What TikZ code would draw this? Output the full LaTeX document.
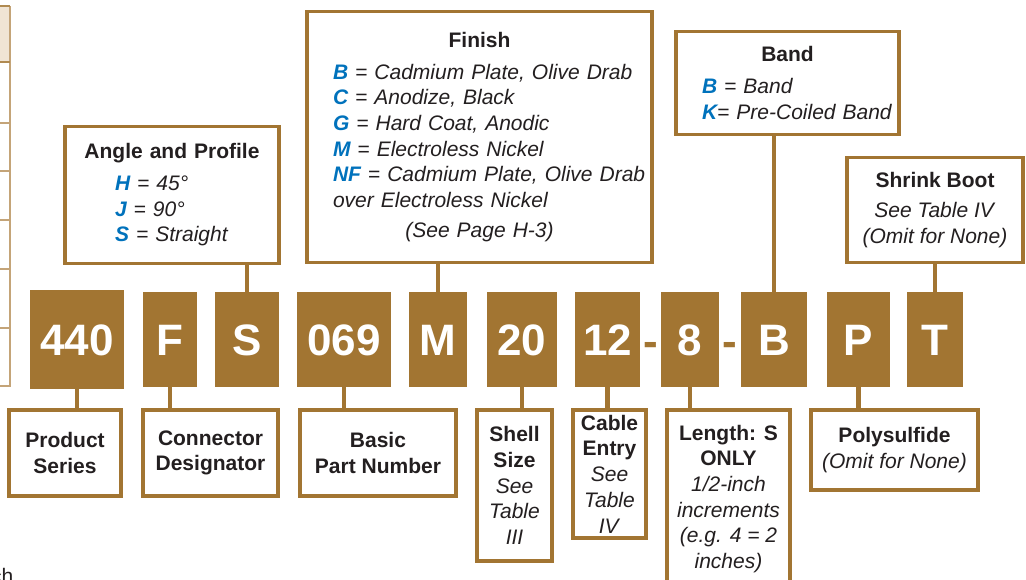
\documentclass[tikz,border=0pt]{standalone}
\usepackage{fontspec}
\setmainfont{Liberation Sans}
\usepackage{tikz}

\definecolor{brass}{RGB}{162,117,50}
\definecolor{codeblue}{RGB}{0,114,188}
\definecolor{ink}{RGB}{35,31,32}
\definecolor{tabline}{RGB}{196,164,120}
\definecolor{tabhead}{RGB}{240,228,212}

\newcommand{\optkey}[1]{\textcolor{codeblue}{\bfseries #1}}

\tikzset{
  codebox/.style={fill=brass, text=white, inner sep=0pt,
    font=\fontsize{44}{44}\selectfont\bfseries, text height=32pt, text depth=0pt},
  dashmark/.style={text=brass, inner sep=0pt, font=\fontsize{44}{44}\selectfont\bfseries},
  infobox/.style={draw=brass, line width=3.8pt, fill=white, text=ink, inner sep=0pt,
    font=\fontsize{21}{25.7}\selectfont},
  codelink/.style={draw=brass, line width=4.5pt}
}

\begin{document}
\begin{tikzpicture}[x=1pt,y=-1pt]
        \useasboundingbox (0,0) rectangle (1026,579);
        % edge of the next table
        \fill[tabhead] (0,6) rectangle (10,62);
        \draw[tabline, line width=1.2pt] (10,6) -- (10,386) -- (0,386);
        \draw[brass!85, line width=1.6pt] (0,6) -- (10,6);
        \draw[brass!85, line width=1.6pt] (0,62) -- (10,62);
        \foreach \y in {123,171,220,269,328}
            \draw[tabline, line width=1.2pt] (0,\y) -- (10,\y);
        \node[anchor=base west, inner sep=0pt, text=ink, font=\fontsize{21}{25}\selectfont] (cut) at (-9,583) {ch};

        % part number
        \node[codebox, minimum width=94pt, minimum height=99pt] (c440) at (77,339.5) {440};
        \node[codebox, minimum width=54pt, minimum height=95pt] (cF) at (170,339.5) {F};
        \node[codebox, minimum width=64pt, minimum height=95pt] (cS) at (247,339.5) {S};
        \node[codebox, minimum width=94pt, minimum height=95pt] (c069) at (344,339.5) {069};
        \node[codebox, minimum width=58pt, minimum height=95pt] (cM) at (438,339.5) {M};
        \node[codebox, minimum width=70pt, minimum height=95pt] (c20) at (522,339.5) {20};
        \node[codebox, minimum width=65pt, minimum height=95pt] (c12) at (607.5,339.5) {12};
        \node[dashmark, anchor=base] (dashA) at (650.5,356) {-};
        \node[codebox, minimum width=58pt, minimum height=95pt] (c8) at (690,339.5) {8};
        \node[dashmark, anchor=base] (dashB) at (730,356) {-};
        \node[codebox, minimum width=66pt, minimum height=95pt] (cB) at (774,339.5) {B};
        \node[codebox, minimum width=63pt, minimum height=95pt] (cP) at (858.5,339.5) {P};
        \node[codebox, minimum width=56pt, minimum height=95pt] (cT) at (935,339.5) {T};

        % options above
        \node[infobox, text width=214pt, minimum height=137pt] (angle) at (172,195)
            {{\centering\bfseries Angle and Profile\par}\vspace{6pt}
             {\leftskip=50pt\itshape \optkey{H} = 45°\\ \optkey{J} = 90°\\ \optkey{S} = Straight\par}};
        \node[infobox, text width=345pt, minimum height=251pt] (finish) at (479.5,137)
            {{\centering\bfseries Finish\par}\vspace{6pt}
             {\leftskip=26pt\itshape \optkey{B} = Cadmium Plate, Olive Drab\\
              \optkey{C} = Anodize, Black\\
              \optkey{G} = Hard Coat, Anodic\\
              \optkey{M} = Electroless Nickel\\
              \optkey{NF} = Cadmium Plate, Olive Drab\\
              over Electroless Nickel\par}\vspace{4.3pt}
             {\centering\itshape (See Page H-3)\par}};
        \node[infobox, text width=223pt, minimum height=103pt] (band) at (787.5,83)
            {{\centering\bfseries Band\par}\vspace{6pt}
             {\leftskip=26pt\itshape \optkey{B} = Band\\ \optkey{K}= Pre-Coiled Band\par}};
        \node[infobox, align=center, minimum width=176pt, minimum height=105pt] (boot) at (935,210)
            {\textbf{Shrink Boot}\\[4.3pt]\textit{See Table IV}\\\textit{(Omit for None)}};

        % meanings below
        \node[infobox, align=center, minimum width=112pt, minimum height=86pt] (series) at (65,453)
            {\textbf{Product}\\\textbf{Series}};
        \node[infobox, align=center, minimum width=135pt, minimum height=86pt] (designator) at (210.5,453)
            {\textbf{Connector}\\\textbf{Designator}};
        \node[infobox, align=center, minimum width=156pt, minimum height=86pt] (partno) at (378,453)
            {\textbf{Basic}\\\textbf{Part Number}};
        \node[infobox, align=center, minimum width=75pt, minimum height=151pt] (shell) at (514.5,485.5)
            {\textbf{Shell}\\\textbf{Size}\\\textit{See}\\\textit{Table}\\\textit{III}};
        \node[infobox, align=center, minimum width=73pt, minimum height=128pt] (entry) at (609.5,474)
            {\textbf{Cable}\\\textbf{Entry}\\\textit{See}\\\textit{Table}\\\textit{IV}};
        \node[infobox, align=center, minimum width=123pt, minimum height=178pt] (length) at (728.5,499)
            {\textbf{Length: S}\\\textbf{ONLY}\\\textit{1/2-inch}\\\textit{increments}\\\textit{(e.g. 4 = 2}\\\textit{inches)}};
        \node[infobox, align=center, minimum width=167pt, minimum height=80pt] (sealant) at (894.5,450)
            {\textbf{Polysulfide}\\\textit{(Omit for None)}};

        % connectors
        \draw[codelink] (cS.north) -- (cS.north |- angle.south);
        \draw[codelink] (cM.north) -- (cM.north |- finish.south);
        \draw[codelink] (cB.north) -- (cB.north |- band.south);
        \draw[codelink] (cT.north) -- (cT.north |- boot.south);
        \draw[codelink] (c440.south) -- (c440.south |- series.north);
        \draw[codelink] (cF.south) -- (cF.south |- designator.north);
        \draw[codelink] (c069.south) -- (c069.south |- partno.north);
        \draw[codelink] (c20.south) -- (c20.south |- shell.north);
        \draw[codelink] (c12.south) -- (c12.south |- entry.north);
        \draw[codelink] (c8.south) -- (c8.south |- length.north);
        \draw[codelink] (cP.south) -- (cP.south |- sealant.north);
\end{tikzpicture}
\end{document}
